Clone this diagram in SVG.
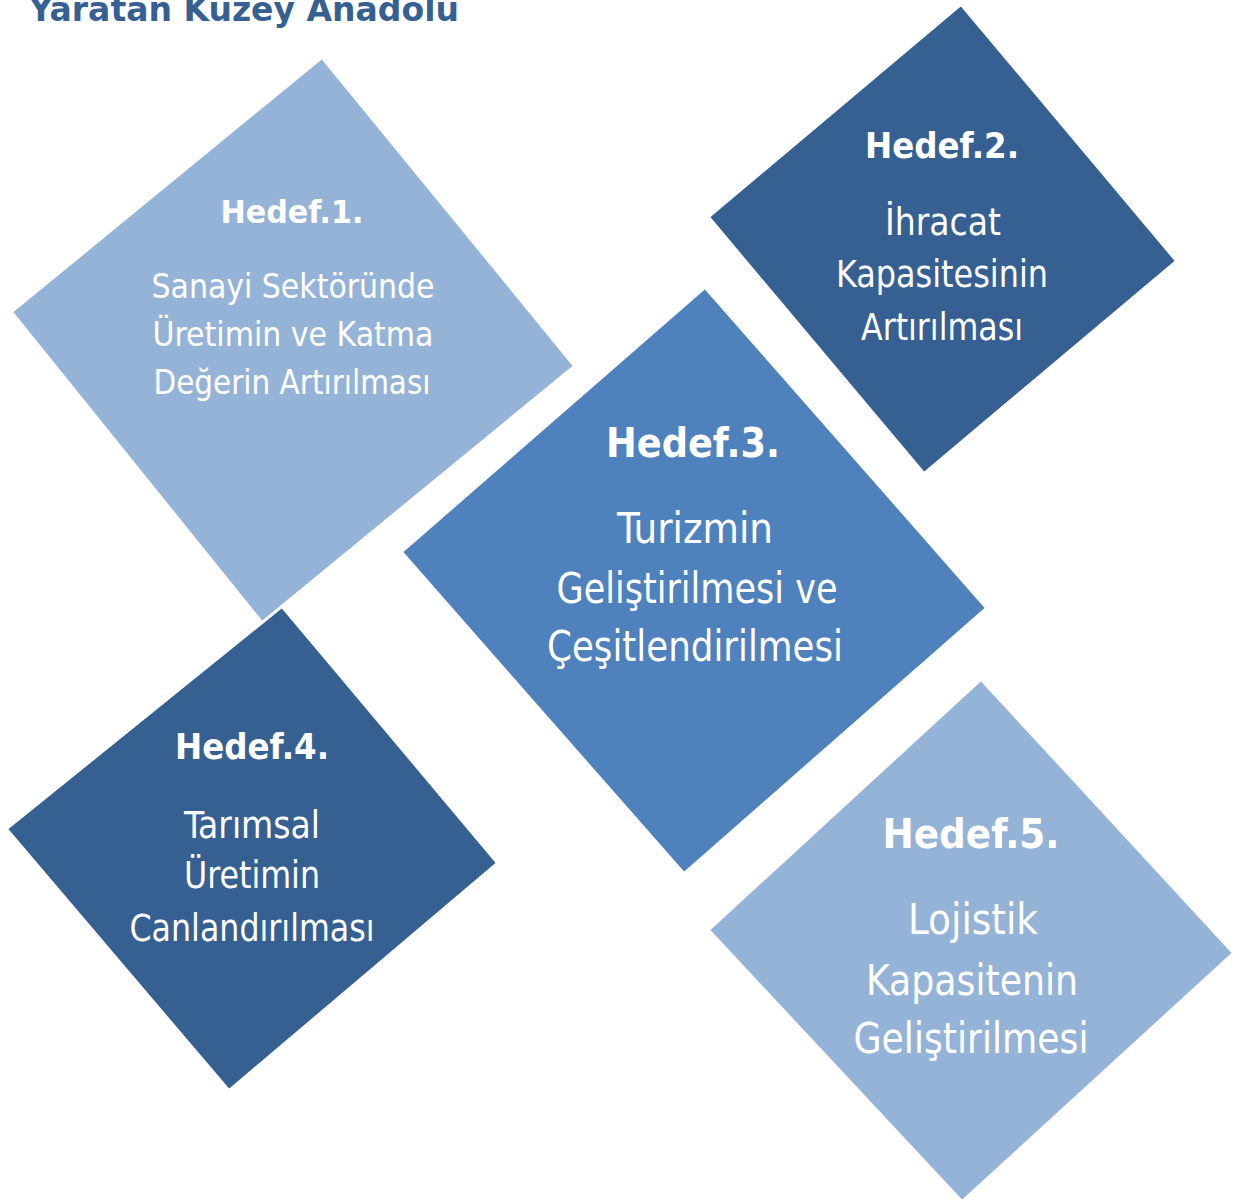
<svg xmlns="http://www.w3.org/2000/svg" width="1235" height="1202" viewBox="0 0 1235 1202">
<style>
.shape{stroke:#FFFFFF;stroke-width:2;stroke-linejoin:miter}
.light{fill:#95B3D7}
.mid{fill:#4F81BD}
.dark{fill:#376092}
.t{font-family:"DejaVu Sans Condensed","DejaVu Sans",sans-serif;fill:#FFFFFF;text-anchor:middle}
.h{font-weight:bold}
.title{font-family:"DejaVu Sans Condensed","DejaVu Sans",sans-serif;font-weight:bold;fill:#376092}
</style>
<rect width="1235" height="1202" fill="#FFFFFF"/>
<text class="title" x="29" y="21" font-size="34" textLength="430" lengthAdjust="spacingAndGlyphs">Yaratan Kuzey Anadolu</text>
<g id="connectors"></g>
<g id="hedef4">
<polygon class="shape dark" points="282,607 497,863 229,1090 7,829"/>
<text class="t h" x="252" y="759" font-size="36" textLength="154" lengthAdjust="spacingAndGlyphs">Hedef.4.</text>
<text class="t" x="252" y="838" font-size="37" textLength="136" lengthAdjust="spacingAndGlyphs">Tarımsal</text>
<text class="t" x="252" y="888" font-size="37" textLength="136" lengthAdjust="spacingAndGlyphs">Üretimin</text>
<text class="t" x="252" y="941" font-size="37" textLength="245" lengthAdjust="spacingAndGlyphs">Canlandırılması</text>
</g>
<g id="hedef1">
<polygon class="shape light" points="322,58 574,366 262,622 12,312"/>
<text class="t h" x="292" y="223" font-size="32" textLength="143" lengthAdjust="spacingAndGlyphs">Hedef.1.</text>
<text class="t" x="293" y="298" font-size="34" textLength="283" lengthAdjust="spacingAndGlyphs">Sanayi Sektöründe</text>
<text class="t" x="293" y="346" font-size="34" textLength="281" lengthAdjust="spacingAndGlyphs">Üretimin ve Katma</text>
<text class="t" x="292" y="394" font-size="34" textLength="277" lengthAdjust="spacingAndGlyphs">Değerin Artırılması</text>
</g>
<g id="hedef2">
<polygon class="shape dark" points="961,5 1176,261 924,473 709,217"/>
<text class="t h" x="942" y="158" font-size="36" textLength="154" lengthAdjust="spacingAndGlyphs">Hedef.2.</text>
<text class="t" x="943" y="235" font-size="37" textLength="116" lengthAdjust="spacingAndGlyphs">İhracat</text>
<text class="t" x="942" y="287" font-size="37" textLength="212" lengthAdjust="spacingAndGlyphs">Kapasitesinin</text>
<text class="t" x="942" y="340" font-size="37" textLength="162" lengthAdjust="spacingAndGlyphs">Artırılması</text>
</g>
<g id="hedef3">
<polygon class="shape mid" points="705,288 986,608 684,873 402,552"/>
<text class="t h" x="693" y="457" font-size="40" textLength="174" lengthAdjust="spacingAndGlyphs">Hedef.3.</text>
<text class="t" x="695" y="543" font-size="42" textLength="156" lengthAdjust="spacingAndGlyphs">Turizmin</text>
<text class="t" x="697" y="603" font-size="42" textLength="281" lengthAdjust="spacingAndGlyphs">Geliştirilmesi ve</text>
<text class="t" x="695" y="661" font-size="42" textLength="296" lengthAdjust="spacingAndGlyphs">Çeşitlendirilmesi</text>
</g>
<g id="hedef5">
<polygon class="shape light" points="981,680 1233,953 962,1201 709,930"/>
<text class="t h" x="971" y="848" font-size="40" textLength="177" lengthAdjust="spacingAndGlyphs">Hedef.5.</text>
<text class="t" x="973" y="934" font-size="42" textLength="130" lengthAdjust="spacingAndGlyphs">Lojistik</text>
<text class="t" x="972" y="995" font-size="42" textLength="212" lengthAdjust="spacingAndGlyphs">Kapasitenin</text>
<text class="t" x="971" y="1053" font-size="42" textLength="235" lengthAdjust="spacingAndGlyphs">Geliştirilmesi</text>
</g>
</svg>
